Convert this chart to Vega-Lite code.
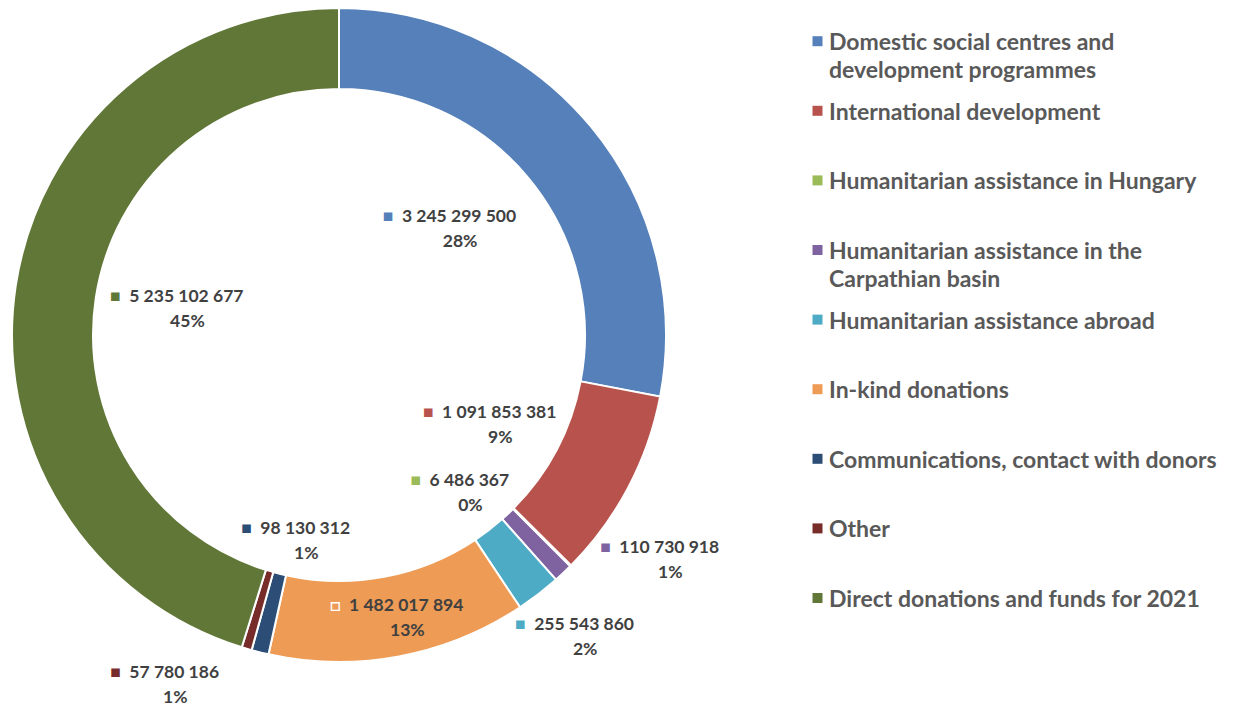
{
  "$schema": "https://vega.github.io/schema/vega-lite/v6.json",
  "width": 678,
  "height": 670,
  "padding": 0,
  "autosize": {"type": "pad"},
  "background": "white",
  "data": {
    "values": [
      {"idx": 1, "category": "Domestic social centres and development programmes", "value": 3245299500, "pct": 28},
      {"idx": 2, "category": "International development", "value": 1091853381, "pct": 9},
      {"idx": 3, "category": "Humanitarian assistance in Hungary", "value": 6486367, "pct": 0},
      {"idx": 4, "category": "Humanitarian assistance in the Carpathian basin", "value": 110730918, "pct": 1},
      {"idx": 5, "category": "Humanitarian assistance abroad", "value": 255543860, "pct": 2},
      {"idx": 6, "category": "In-kind donations", "value": 1482017894, "pct": 13},
      {"idx": 7, "category": "Communications, contact with donors", "value": 98130312, "pct": 1},
      {"idx": 8, "category": "Other", "value": 57780186, "pct": 1},
      {"idx": 9, "category": "Direct donations and funds for 2021", "value": 5235102677, "pct": 45}
    ]
  },
  "transform": [
    {"stack": "value", "groupby": [], "sort": [{"field": "idx", "order": "ascending"}], "as": ["v0", "v1"]},
    {"calculate": "(datum.v0 + datum.v1) / 2", "as": "vmid"},
    {"calculate": "replace(replace(replace(format(datum.value, ','), ',', ' '), ',', ' '), ',', ' ')", "as": "num"},
    {"calculate": "(datum.idx == 6 ? '□' : '■') + '\u00A0\u00A0' + datum.num + '\\n\u200B\u00A0\u00A0\u00A0\u00A0\u00A0' + datum.pct + '%'", "as": "txt"}
  ],
  "layer": [
    {
      "mark": {"type": "arc", "outerRadius": 327, "innerRadius": 246, "stroke": "white", "strokeWidth": 2},
      "encoding": {
        "theta": {"field": "v0", "type": "quantitative", "stack": null, "scale": {"domain": [0, 11582945095]}},
        "theta2": {"field": "v1"},
        "color": {
          "field": "category",
          "type": "nominal",
          "scale": {
            "domain": [
              "Domestic social centres and development programmes",
              "International development",
              "Humanitarian assistance in Hungary",
              "Humanitarian assistance in the Carpathian basin",
              "Humanitarian assistance abroad",
              "In-kind donations",
              "Communications, contact with donors",
              "Other",
              "Direct donations and funds for 2021"
            ],
            "range": ["#5580BA", "#B8524D", "#9BBB59", "#7F63A1", "#4EABC5", "#EE9B55", "#2C4D75", "#772C2A", "#617737"]
          },
          "legend": {
            "orient": "none",
            "legendX": 806,
            "legendY": 29.7,
            "title": null,
            "symbolType": "square",
            "symbolSize": 100,
            "symbolStrokeWidth": 0,
            "labelFont": "Lato",
            "labelFontSize": 23,
            "labelFontWeight": "bold",
            "labelColor": "#595959",
            "labelLimit": 0,
            "labelOffset": 0,
            "labelBaseline": "top",
            "labelLineHeight": 28,
            "rowPadding": 15.6,
            "gridAlign": "all",
            "padding": 0,
            "labelExpr": "datum.label == 'Domestic social centres and development programmes' ? ['Domestic social centres and', 'development programmes'] : datum.label == 'Humanitarian assistance in the Carpathian basin' ? ['Humanitarian assistance in the', 'Carpathian basin'] : datum.label",
            "encoding": {"labels": {"dy": {"value": -9}, "lineHeight": {"value": 28}}}
          }
        }
      }
    },
    {
      "transform": [{"filter": "datum.idx == 1"}],
      "mark": {"type": "text", "radius": 161.7, "thetaOffset": -0.128, "font": "Lato", "fontSize": 17.5, "fontWeight": "bold", "lineBreak": "\n", "lineHeight": 25, "align": "center", "baseline": "middle",
        "fill": {"gradient": "linear", "x1": 0, "y1": 0, "x2": 1, "y2": 0, "stops": [{"offset": 0, "color": "#5580BA"}, {"offset": 0.096, "color": "#5580BA"}, {"offset": 0.096, "color": "#404040"}, {"offset": 1, "color": "#404040"}]}},
      "encoding": {"theta": {"field": "vmid", "type": "quantitative", "stack": null}, "text": {"field": "txt"}}
    },
    {
      "transform": [{"filter": "datum.idx == 2"}],
      "mark": {"type": "text", "radius": 169.7, "thetaOffset": -0.008, "font": "Lato", "fontSize": 17.5, "fontWeight": "bold", "lineBreak": "\n", "lineHeight": 25, "align": "center", "baseline": "middle",
        "fill": {"gradient": "linear", "x1": 0, "y1": 0, "x2": 1, "y2": 0, "stops": [{"offset": 0, "color": "#B8524D"}, {"offset": 0.096, "color": "#B8524D"}, {"offset": 0.096, "color": "#404040"}, {"offset": 1, "color": "#404040"}]}},
      "encoding": {"theta": {"field": "vmid", "type": "quantitative", "stack": null}, "text": {"field": "txt"}}
    },
    {
      "transform": [{"filter": "datum.idx == 3"}],
      "mark": {"type": "text", "radius": 189.5, "thetaOffset": 0.096, "font": "Lato", "fontSize": 17.5, "fontWeight": "bold", "lineBreak": "\n", "lineHeight": 25, "align": "center", "baseline": "middle",
        "fill": {"gradient": "linear", "x1": 0, "y1": 0, "x2": 1, "y2": 0, "stops": [{"offset": 0, "color": "#9BBB59"}, {"offset": 0.13, "color": "#9BBB59"}, {"offset": 0.13, "color": "#404040"}, {"offset": 1, "color": "#404040"}]}},
      "encoding": {"theta": {"field": "vmid", "type": "quantitative", "stack": null}, "text": {"field": "txt"}}
    },
    {
      "transform": [{"filter": "datum.idx == 4"}],
      "mark": {"type": "text", "radius": 385.0, "thetaOffset": -0.229, "font": "Lato", "fontSize": 17.5, "fontWeight": "bold", "lineBreak": "\n", "lineHeight": 25, "align": "center", "baseline": "middle",
        "fill": {"gradient": "linear", "x1": 0, "y1": 0, "x2": 1, "y2": 0, "stops": [{"offset": 0, "color": "#7F63A1"}, {"offset": 0.107, "color": "#7F63A1"}, {"offset": 0.107, "color": "#404040"}, {"offset": 1, "color": "#404040"}]}},
      "encoding": {"theta": {"field": "vmid", "type": "quantitative", "stack": null}, "text": {"field": "txt"}}
    },
    {
      "transform": [{"filter": "datum.idx == 5"}],
      "mark": {"type": "text", "radius": 373.7, "thetaOffset": -0.026, "font": "Lato", "fontSize": 17.5, "fontWeight": "bold", "lineBreak": "\n", "lineHeight": 25, "align": "center", "baseline": "middle",
        "fill": {"gradient": "linear", "x1": 0, "y1": 0, "x2": 1, "y2": 0, "stops": [{"offset": 0, "color": "#4EABC5"}, {"offset": 0.107, "color": "#4EABC5"}, {"offset": 0.107, "color": "#404040"}, {"offset": 1, "color": "#404040"}]}},
      "encoding": {"theta": {"field": "vmid", "type": "quantitative", "stack": null}, "text": {"field": "txt"}}
    },
    {
      "transform": [{"filter": "datum.idx == 6"}],
      "mark": {"type": "text", "radius": 277.1, "thetaOffset": -0.025, "font": "Lato", "fontSize": 17.5, "fontWeight": "bold", "lineBreak": "\n", "lineHeight": 25, "align": "center", "baseline": "middle",
        "fill": {"gradient": "linear", "x1": 0, "y1": 0, "x2": 1, "y2": 0, "stops": [{"offset": 0, "color": "#FFFFFF"}, {"offset": 0.096, "color": "#FFFFFF"}, {"offset": 0.096, "color": "#404040"}, {"offset": 1, "color": "#404040"}]}},
      "encoding": {"theta": {"field": "vmid", "type": "quantitative", "stack": null}, "text": {"field": "txt"}}
    },
    {
      "transform": [{"filter": "datum.idx == 7"}],
      "mark": {"type": "text", "radius": 198.8, "thetaOffset": -0.024, "font": "Lato", "fontSize": 17.5, "fontWeight": "bold", "lineBreak": "\n", "lineHeight": 25, "align": "center", "baseline": "middle",
        "fill": {"gradient": "linear", "x1": 0, "y1": 0, "x2": 1, "y2": 0, "stops": [{"offset": 0, "color": "#2C4D75"}, {"offset": 0.118, "color": "#2C4D75"}, {"offset": 0.118, "color": "#404040"}, {"offset": 1, "color": "#404040"}]}},
      "encoding": {"theta": {"field": "vmid", "type": "quantitative", "stack": null}, "text": {"field": "txt"}}
    },
    {
      "transform": [{"filter": "datum.idx == 8"}],
      "mark": {"type": "text", "radius": 380.4, "thetaOffset": 0.19, "font": "Lato", "fontSize": 17.5, "fontWeight": "bold", "lineBreak": "\n", "lineHeight": 25, "align": "center", "baseline": "middle",
        "fill": {"gradient": "linear", "x1": 0, "y1": 0, "x2": 1, "y2": 0, "stops": [{"offset": 0, "color": "#772C2A"}, {"offset": 0.118, "color": "#772C2A"}, {"offset": 0.118, "color": "#404040"}, {"offset": 1, "color": "#404040"}]}},
      "encoding": {"theta": {"field": "vmid", "type": "quantitative", "stack": null}, "text": {"field": "txt"}}
    },
    {
      "transform": [{"filter": "datum.idx == 9"}],
      "mark": {"type": "text", "radius": 166.6, "thetaOffset": 0.079, "font": "Lato", "fontSize": 17.5, "fontWeight": "bold", "lineBreak": "\n", "lineHeight": 25, "align": "center", "baseline": "middle",
        "fill": {"gradient": "linear", "x1": 0, "y1": 0, "x2": 1, "y2": 0, "stops": [{"offset": 0, "color": "#617737"}, {"offset": 0.096, "color": "#617737"}, {"offset": 0.096, "color": "#404040"}, {"offset": 1, "color": "#404040"}]}},
      "encoding": {"theta": {"field": "vmid", "type": "quantitative", "stack": null}, "text": {"field": "txt"}}
    }
  ],
  "config": {
    "view": {"stroke": null}
  }
}
